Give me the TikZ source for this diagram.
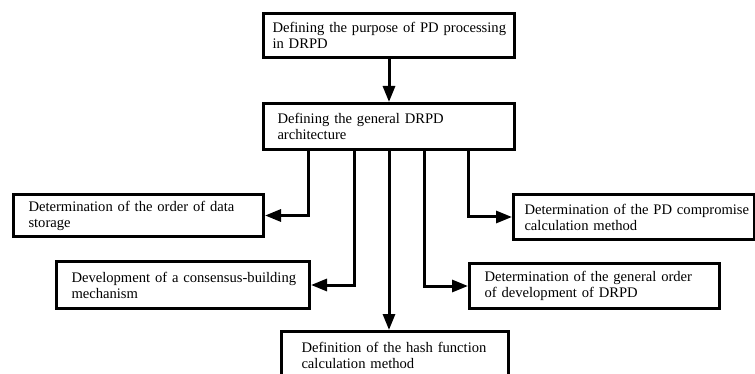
\documentclass[tikz,border=0pt]{standalone}
\usepackage{fontspec}
\setmainfont{Liberation Serif}
\usetikzlibrary{arrows.meta}
\begin{document}
\begin{tikzpicture}[x=1pt,y=-1pt,
  box/.style={draw, line width=3pt, align=left, inner ysep=0pt,
    anchor=north west, font=\fontsize{14.6}{16}\selectfont},
  arr/.style={line width=3pt, -{Triangle[length=16pt,width=12pt]}}]
\useasboundingbox (0,0) rectangle (755,374);
\clip (0,0) rectangle (755,374);

% boxes: text width = box width - 2*indent; lines are kept unbroken
\node[box, text width=233pt, inner xsep=9pt, minimum height=44pt] (purpose) at (262,12)
  {\mbox{Defining the purpose of PD processing}\\in DRPD};
\node[box, text width=223pt, inner xsep=14pt, minimum height=46pt] (arch) at (262,102)
  {\mbox{Defining the general DRPD}\\architecture};
\node[box, text width=220pt, inner xsep=15pt, minimum height=42pt] (store) at (12,193)
  {\mbox{Determination of the order of data}\\storage};
\node[box, text width=223pt, inner xsep=15pt, minimum height=47pt] (consensus) at (55,260)
  {\mbox{Development of a consensus-building}\\mechanism};
% this box runs on below the lower edge
\node[box, text width=187pt, inner xsep=20pt, inner ysep=11pt, text depth=45pt] (hash) at (280,330)
  {\mbox{Definition of the hash function}\\calculation method};
\node[box, text width=219pt, inner xsep=11pt, minimum height=45pt] (compromise) at (512,193)
  {\mbox{Determination of the PD compromise}\\calculation method};
\node[box, text width=220pt, inner xsep=15pt, minimum height=45pt] (order) at (468,262)
  {\mbox{Determination of the general order}\\of development of DRPD};

% connectors
\draw[arr] (purpose.south) -- (arch.north);
\draw[arr] ([xshift=-80.5pt]arch.south) |- (store.east);
\draw[arr] ([xshift=-34.5pt]arch.south) |- (consensus.east);
\draw[arr] (arch.south) -- (arch.south |- hash.north);
\draw[arr] ([xshift=35.5pt]arch.south) |- (order.west);
\draw[arr] ([xshift=79.5pt]arch.south) |- (compromise.west);
\end{tikzpicture}
\end{document}
